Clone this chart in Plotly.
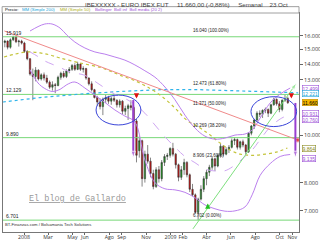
import math
import pandas as pd
import plotly.graph_objects as go

# ---------------- data ----------------
week_dates = pd.date_range('2007-11-14', periods=102, freq='7D')

open_ = [15500,15600,15150,15700,15900,15550,15600,
         15450,14850,14350,13350,13200,13600,13050,13300,13100,12850,12550,12700,12650,13150,13400,13200,13550,
         13650,13900,13650,14000,13650,13700,13100,12750,12400,11950,11700,11450,11850,11950,11750,11900,11800,
         11550,11750,11200,11350,11500,11400,10700,9300,9750,8150,9150,8850,8350,7850,8500,8150,8800,9050,
         9100,9400,9150,8700,8200,8500,8800,8300,7750,7550,6950,7400,7750,8150,8400,8600,8950,8650,9100,9500,
         9150,9350,9450,9750,9800,9450,9700,9550,9250,10100,10450,10750,11100,11050,11250,11300,11100,11550,
         11850,11600,11300,11800,11900]
high = [15700,15650,15800,16000,16000,15700,15700,
        15550,14950,14400,13700,13800,13650,13400,13450,13300,12950,12900,12800,13250,13500,13550,13650,13800,
        14000,14050,14150,14050,13850,13750,13150,12900,12450,12050,11900,11950,12100,12050,12000,12150,11850,
        11850,11800,11500,11600,11800,11500,10800,9950,9800,9300,9550,9000,8500,8600,8650,8900,9150,9200,
        9450,9650,9200,8750,8650,8950,8850,8350,7950,7600,7450,7900,8250,8500,8700,9050,9000,9150,9600,
        9550,9450,9550,9850,9900,9850,9750,9800,9600,10150,10500,10800,11200,11250,11300,11400,11350,11600,
        11950,11900,11750,11850,12100,12000]
low = [15150,15000,15050,15600,15450,15200,15350,
       14750,14250,13250,11800,12900,12950,12950,12950,12750,12450,12350,12200,12600,13000,13100,13100,13400,
       13550,13550,13600,13550,13450,13000,12650,12300,11900,11500,11300,11000,11650,11600,11550,11700,11400,
       11400,11050,11000,10750,11250,10500,8800,9000,7850,8000,8750,8200,7750,7800,8000,8050,8650,8900,
       9000,9050,8550,8050,8100,8300,8200,7650,7500,6900,6702,7350,7650,7900,8250,8500,8450,8600,9000,
       9050,9100,9200,9400,9550,9350,9350,9450,9150,9200,10000,10300,10650,10900,10850,11100,10900,11050,
       11500,11500,11150,11200,11700,11600]
close = [15600,15150,15700,15900,15550,15600,15450,
         14850,14350,13350,13200,13600,13050,13300,13100,12850,12550,12700,12650,13150,13400,13200,13550,13650,
         13900,13650,14000,13650,13700,13100,12750,12400,11950,11700,11450,11850,11950,11750,11900,11800,11550,
         11750,11200,11350,11500,11400,10700,9100,9750,8150,9150,8850,8350,7850,8500,8150,8800,9050,9100,
         9400,9150,8700,8200,8500,8800,8300,7750,7550,6950,7400,7750,8150,8400,8600,8950,8650,9100,9500,
         9150,9350,9450,9750,9800,9450,9700,9550,9250,10100,10450,10750,11100,11050,11250,11300,11100,11550,
         11850,11600,11300,11800,11900,11660]

# moving averages / bands
mm200_dates = ['2007-11-09','2008-02-10','2008-05-20','2008-08-29','2008-12-06','2009-03-16','2009-06-24','2009-11-16']
mm200_vals = [11700,11950,12150,12300,12400,12400,12330,12221]

mm50_dates = ['2007-11-12','2007-12-07','2008-01-08','2008-02-10','2008-03-06','2008-03-31','2008-05-20',
              '2008-07-10','2008-08-04','2008-08-29','2008-09-30','2008-10-31','2008-12-06','2009-01-12',
              '2009-02-10','2009-03-16','2009-04-10','2009-05-05','2009-05-30','2009-06-24','2009-07-27',
              '2009-08-26','2009-09-25','2009-10-20']
mm50_vals = [14470,14650,14820,14750,14610,14400,14070,13770,13530,13270,12980,12620,12090,11380,10750,
             10350,10010,9640,9330,9150,9100,9150,9250,9420]

boll_dates = ['2008-01-16','2008-02-05','2008-02-22','2008-03-11','2008-03-31','2008-04-17','2008-05-07',
              '2008-06-01','2008-06-26','2008-07-21','2008-08-15','2008-09-09','2008-10-04','2008-10-29',
              '2008-11-23','2008-12-18','2009-01-12','2009-02-06','2009-03-03','2009-03-28','2009-04-22',
              '2009-05-17','2009-06-11','2009-07-06','2009-07-24','2009-08-13','2009-09-07','2009-10-02',
              '2009-10-27']
boll_up = [16360,16700,16910,16910,16590,16050,15530,15100,14820,14670,14470,14260,13940,13560,13160,
           12560,11830,11000,10350,9960,9820,9870,10010,10060,10250,10850,11650,12150,12500]
boll_mid = [14820,14500,14200,13990,13780,13560,13420,13270,12900,12500,12130,11900,11570,11100,
            10500,9930,9460,9050,8790,8530,8450,8460,8690,9050,9330,9800,10400,10800,11050]
boll_low = [13630,12800,12470,12300,12420,12700,12860,12500,12080,11680,11270,10950,10650,8900,
            8000,7770,7730,7640,7450,7200,7070,6990,7000,7130,7550,8280,8750,9050,9135]

# horizontal support lines
levels = [15919, 12129, 9890, 6701]
level_labels = ['15.919', '12.129', '9.890', '6.701']

# Fibonacci retracement labels
fib_vals = [16040, 12473, 11371, 10269, 8906, 6702]
fib_labels = ['16.040 (100.00%)', '12.473 (61.80%)', '11.371 (50.00%)', '10.269 (38.20%)',
              '8.906 (23.60%)', '6.702 (0.00%)']

# trend lines
red_dates = ['2007-11-13', '2009-11-15']
red_vals = [16360, 9780]
green_dates = ['2009-02-26', '2009-11-12']
green_vals = [6430, 12800]

# right-hand value boxes
box_vals = [12499, 12221, 11660, 10931, 10760, 9864, 9135]
box_text = ['12.499', '12.221', '11.660', '10.931', '10.760', '9.864', '9.135']
box_font = ['#9b4fd6', '#1aa3d9', '#000000', '#9b4fd6', '#9b4fd6', '#8a8a20', '#9b4fd6']
box_bg = ['white', 'white', '#f5b800', 'white', 'white', 'white', 'white']
box_shift = [0, -1, 0, 3, 0, -10, -4]

# month ticks
tick_dates = ['2008-01-01','2008-03-01','2008-05-01','2008-06-01','2008-08-01','2008-09-01','2008-11-01',
              '2009-01-01','2009-02-01','2009-04-01','2009-06-01','2009-08-01','2009-10-01','2009-11-01']
tick_text = ['2008','Mar','May','Jun','Ago','Sep','Nov','2009','Feb','Abr','Jun','Ago','Oct','Nov']
y_ticks = [7000, 8000, 10000, 13000, 14000, 15000, 16000]
y_ticktext = ['7.000', '8.000', '10.000', '13.000', '14.000', '15.000', '16.000']

# ---------------- figure ----------------
fig = go.Figure()
L = math.log10
xr = ['2007-11-09 12:00', '2009-11-18']

for v in levels:
    fig.add_trace(go.Scatter(x=xr, y=[v, v], mode='lines', line=dict(color='#77d877', width=1),
                             hoverinfo='skip', showlegend=False))

fig.add_trace(go.Scatter(x=mm200_dates, y=mm200_vals, mode='lines',
                         line=dict(color='#2fb4ea', width=1.2, dash='dot'), showlegend=False))
fig.add_trace(go.Scatter(x=mm50_dates, y=mm50_vals, mode='lines', line_shape='spline',
                         line=dict(color='#c4c43a', width=1.2, dash='dot'), showlegend=False))
fig.add_trace(go.Scatter(x=boll_dates, y=boll_up, mode='lines', line_shape='spline',
                         line=dict(color='#bb80ee', width=1), showlegend=False))
fig.add_trace(go.Scatter(x=boll_dates, y=boll_low, mode='lines', line_shape='spline',
                         line=dict(color='#bb80ee', width=1), showlegend=False))
fig.add_trace(go.Scatter(x=boll_dates, y=boll_mid, mode='lines', line_shape='spline',
                         line=dict(color='#cfa6f2', width=1, dash='dash'), showlegend=False))

fig.add_trace(go.Scatter(x=red_dates, y=red_vals, mode='lines+markers',
                         line=dict(color='#f08a8a', width=1),
                         marker=dict(size=[0, 4], color='#e01010', symbol='circle'),
                         showlegend=False))
fig.add_trace(go.Scatter(x=green_dates, y=green_vals, mode='lines+markers',
                         line=dict(color='#7ee07e', width=1),
                         marker=dict(size=[0, 7], color='#7ee07e', symbol='arrow', angleref='previous'),
                         showlegend=False))

fig.add_trace(go.Candlestick(x=week_dates, open=open_, high=high, low=low, close=close,
                             increasing=dict(fillcolor='#22a022', line=dict(color='#333333', width=0.6)),
                             decreasing=dict(fillcolor='#d01010', line=dict(color='#333333', width=0.6)),
                             whiskerwidth=0, showlegend=False))

# vertical purple arrows
for xd, y0, y1 in [('2008-09-30', 11810, 8990), ('2009-11-09', 11650, 8990)]:
    fig.add_trace(go.Scatter(x=[xd, xd], y=[y0, y1], mode='lines+markers',
                             line=dict(color='#9a3fd0', width=2),
                             marker=dict(size=[0, 7], color='#9a3fd0', symbol='arrow', angleref='previous'),
                             showlegend=False))

shapes = []
# ellipses
for x0, x1, y0, y1 in [('2008-06-29', '2008-10-19', 12090, 10500), ('2009-07-21', '2009-11-12', 12000, 10420)]:
    shapes.append(dict(type='circle', xref='x', yref='y', x0=x0, x1=x1, y0=y0, y1=y1,
                       line=dict(color='#3a45d8', width=1)))
# legend box
shapes.append(dict(type='rect', xref='paper', yref='paper', x0=-0.003, x1=1.0, y0=1.0, y1=1.029,
                   line=dict(color='#888', width=0.8), fillcolor='white'))

ann = []
def add(x, y, text, **kw):
    d = dict(x=x, y=y, text=text, showarrow=False, font=dict(size=kw.pop('size', 5),
             color=kw.pop('color', '#222'), family=kw.pop('family', 'Liberation Sans')))
    d.update(kw)
    ann.append(d)

add(0.62, 1.039, 'IBEXXXXX - EURO IBEX FUT     11.660,00 (-0,88%)     Semanal    23 Oct', xref='paper',
    yref='paper', size=6.2, color='#444', xanchor='center', yanchor='middle')
add(0.0, 1.015, 'Precio:', xref='paper', yref='paper', xanchor='left', yanchor='middle', color='#000', size=4.3)
add(0.057, 1.015, 'MM (Simple 200)', xref='paper', yref='paper', xanchor='left', yanchor='middle',
    color='#1aa3d9', size=4.3)
add(0.186, 1.015, 'MM (Simple 50)', xref='paper', yref='paper', xanchor='left', yanchor='middle',
    color='#b0b020', size=4.3)
add(0.304, 1.015, 'Bollinger  Boll inf  Boll media (20 2)', xref='paper', yref='paper', xanchor='left',
    yanchor='middle', color='#9b4fd6', size=4.3)

for v, t in zip(levels, level_labels):
    add(0.003, L(v), t, xref='paper', yref='y', xanchor='left', yanchor='bottom', color='#222', yshift=-1)
for v, t in zip(fib_vals, fib_labels):
    add('2009-02-20', L(v), t, xref='x', yref='y', xanchor='left', yanchor='bottom', color='#222',
        size=4.5)

for v, t, fc, bg, sh in zip(box_vals, box_text, box_font, box_bg, box_shift):
    add(1.01, L(v), t, xref='paper', yref='y', xanchor='left', yanchor='middle', color=fc, bgcolor=bg,
        bordercolor=fc if bg == 'white' else '#c09000', borderwidth=0.6, borderpad=0, yshift=sh)

add(0.25, 0.151, '<u>El blog de Gallardo</u>', xref='paper', yref='paper', size=8.5, color='#9a9a9a',
    family='Liberation Mono', xanchor='center', yanchor='middle')
add(0.0, 0.013, 'BT-Finanzas.com / Bolsamania Tech Solutions', xref='paper', yref='paper',
    xanchor='left', yanchor='bottom', size=4.2, color='#333')

# small arrows
for xd in ['2008-10-08', '2009-10-30']:
    ann.append(dict(x=xd, y=L(11900), xref='x', yref='y', ax=0, ay=-6, showarrow=True, arrowhead=2,
                    arrowsize=0.7, arrowwidth=1.5, arrowcolor='#e01010', text=''))
ann.append(dict(x='2009-04-04', y=L(7250), xref='x', yref='y', ax=0, ay=6, showarrow=True, arrowhead=2,
                arrowsize=0.7, arrowwidth=1.5, arrowcolor='#22c022', text=''))

fig.update_layout(
    width=320, height=240, margin=dict(l=3, r=21, t=13, b=8, autoexpand=False),
    paper_bgcolor='white', plot_bgcolor='white',
    shapes=shapes, annotations=ann, showlegend=False,
    xaxis=dict(type='date', range=xr, tickvals=tick_dates, ticktext=tick_text, tickangle=0,
               tickfont=dict(size=5.2, color='#333'), automargin=False, ticklabelstandoff=-2,
               ticks='outside', ticklen=2, tickcolor='#666', showgrid=False, showline=True, linecolor='#777',
               mirror=True, rangeslider=dict(visible=False), zeroline=False),
    yaxis=dict(type='log', side='right', range=[L(6336), L(17810)], tickvals=y_ticks, ticktext=y_ticktext,
               tickfont=dict(size=5.5, color='#333'), ticks='outside', ticklen=3, tickcolor='#666',
               automargin=False,
               showgrid=False, showline=True, linecolor='#777', mirror=True, zeroline=False),
)

fig.write_html('out.html')
